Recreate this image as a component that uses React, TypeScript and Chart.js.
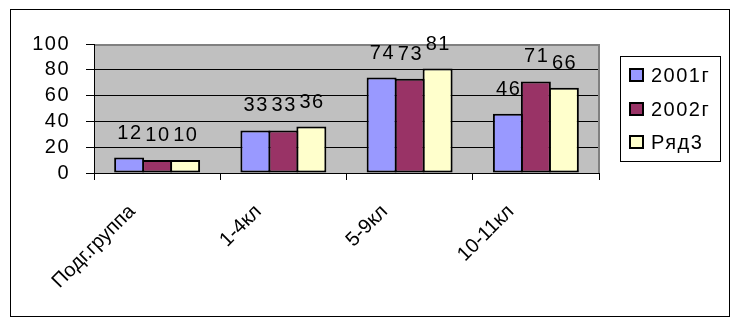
import React, { useEffect, useRef } from "react";
import { Chart, registerables } from "chart.js";

Chart.register(...registerables);

const categories = ["Подг.группа", "1-4кл", "5-9кл", "10-11кл"];
const seriesNames = ["2001г", "2002г", "Ряд3"];
const series2001 = [12, 33, 74, 46];
const series2002 = [10, 33, 73, 71];
const series3 = [10, 36, 81, 66];
const yTicks = [0, 20, 40, 60, 80, 100];
const seriesColors = ["#9999FF", "#993366", "#FFFFCC"];

const FONT = '"Liberation Sans", Arial, sans-serif';
const FONT_SIZE = 20;
const LS = "1.5px";

const spacingPlugin = {
  id: "spacing",
  beforeLayout(chart: any) {
    chart.ctx.letterSpacing = "0px";
  },
  beforeDraw(chart: any) {
    chart.ctx.letterSpacing = "0px";
  },
  beforeDatasetsDraw(chart: any) {
    chart.ctx.letterSpacing = LS;
  },
};

const plotFrame = {
  id: "plotFrame",
  beforeDraw(chart: any) {
    const { ctx, chartArea: a } = chart;
    ctx.save();
    ctx.fillStyle = "#C0C0C0";
    ctx.fillRect(a.left, a.top, a.right - a.left, a.bottom - a.top);
    ctx.restore();
  },
  beforeDatasetsDraw(chart: any) {
    const { ctx, chartArea: a } = chart;
    ctx.save();
    ctx.strokeStyle = "#808080";
    ctx.lineWidth = 2;
    ctx.beginPath();
    ctx.moveTo(a.left + 1, a.top + 1);
    ctx.lineTo(a.right, a.top + 1);
    ctx.lineTo(a.right, a.bottom);
    ctx.stroke();
    ctx.restore();
  },
};

const dataLabels = {
  id: "dataLabels",
  afterDatasetsDraw(chart: any) {
    const ctx = chart.ctx;
    ctx.save();
    ctx.letterSpacing = LS;
    ctx.font = `${FONT_SIZE}px ${FONT}`;
    ctx.fillStyle = "#000";
    ctx.textAlign = "center";
    ctx.textBaseline = "middle";
    chart.data.datasets.forEach((ds: any, i: number) => {
      const meta = chart.getDatasetMeta(i);
      meta.data.forEach((el: any, j: number) => {
        ctx.fillText(String(ds.data[j]), el.x + 0.75, el.y - 24.5);
      });
    });
    ctx.restore();
  },
};

const boxLegend = {
  id: "boxLegend",
  afterDraw(chart: any) {
    const { ctx, chartArea: a } = chart;
    const left = Math.round(a.right + 21);
    const top = Math.round(a.top + 12);
    const w = 100;
    const h = 105;
    ctx.save();
    ctx.letterSpacing = LS;
    ctx.fillStyle = "#fff";
    ctx.fillRect(left, top, w, h);
    ctx.strokeStyle = "#000";
    ctx.lineWidth = 1;
    ctx.strokeRect(left + 0.5, top + 0.5, w, h);
    ctx.font = `${FONT_SIZE}px ${FONT}`;
    ctx.textAlign = "left";
    ctx.textBaseline = "middle";
    chart.data.datasets.forEach((ds: any, i: number) => {
      const cy = Math.round(top + 19 + i * 33.7);
      ctx.fillStyle = "#000";
      ctx.fillRect(left + 9, cy - 7, 15, 14);
      ctx.fillStyle = ds.backgroundColor;
      ctx.fillRect(left + 11, cy - 5, 11, 10);
      ctx.fillStyle = "#000";
      ctx.fillText(ds.label, left + 31, cy + 1);
    });
    ctx.restore();
  },
};

export default function App() {
  const ref = useRef<HTMLCanvasElement | null>(null);

  useEffect(() => {
    if (!ref.current) return;
    const values = [series2001, series2002, series3];
    const chart = new Chart(ref.current, {
      type: "bar",
      data: {
        labels: categories,
        datasets: values.map((d, i) => ({
          label: seriesNames[i],
          data: d,
          backgroundColor: seriesColors[i],
          borderColor: "#000",
          borderWidth: 2,
          borderSkipped: false,
          categoryPercentage: 0.665,
          barPercentage: 1.0714,
        })),
      },
      options: {
        responsive: false,
        animation: false,
        devicePixelRatio: 1,
        layout: { padding: { left: 0, top: 34, right: 130, bottom: 0 } },
        plugins: {
          legend: { display: false },
          tooltip: { enabled: false },
        },
        scales: {
          x: {
            afterFit: (s: any) => {
              s.height = 143;
            },
            grid: {
              drawOnChartArea: false,
              drawTicks: true,
              tickLength: 7,
              color: "#000",
              offset: true,
            },
            border: { color: "#000", width: 1 },
            ticks: {
              minRotation: 45,
              maxRotation: 45,
              autoSkip: false,
              labelOffset: -25,
              padding: 20,
              color: "#000",
              font: { size: FONT_SIZE, family: FONT },
            },
          },
          y: {
            min: yTicks[0],
            max: yTicks[yTicks.length - 1],
            afterFit: (s: any) => {
              s.width = 83;
            },
            grid: { color: "#000", tickLength: 8, drawTicks: true },
            border: { color: "#000", width: 1 },
            ticks: {
              z: 1,
              autoSkip: false,
              stepSize: yTicks[1] - yTicks[0],
              padding: 16,
              color: "#000",
              font: { size: FONT_SIZE, family: FONT },
            },
          },
        },
      },
      plugins: [spacingPlugin, plotFrame, dataLabels, boxLegend],
    });
    return () => chart.destroy();
  }, []);

  return (
    <div
      style={{
        position: "fixed",
        left: 0,
        top: 0,
        width: 739,
        height: 326,
        background: "#fff",
      }}
    >
      <div
        style={{
          position: "absolute",
          left: 10,
          top: 9,
          width: 720,
          height: 308,
          border: "1px solid #000",
          boxSizing: "border-box",
        }}
      >
        <canvas ref={ref} width={718} height={306} style={{ display: "block" }} />
      </div>
    </div>
  );
}
